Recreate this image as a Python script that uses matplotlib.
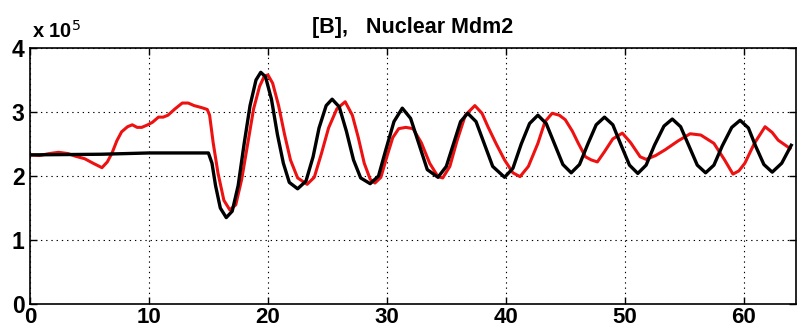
import matplotlib
matplotlib.use("Agg")
import matplotlib.pyplot as plt

plt.rcParams['font.family'] = ['Liberation Sans', 'DejaVu Sans']

title = "[B],   Nuclear Mdm2"
x_ticks = [0, 10, 20, 30, 40, 50, 60]
y_ticks = [0, 1, 2, 3, 4]
scale_label = r"x 10$^{5}$"

# Model (black), values in units of 1e5
black_t = [0, 6, 10, 15.0, 15.3, 15.6, 16.0, 16.5, 17.0, 17.5, 18.0, 18.5, 19.0, 19.4,
           19.8, 20.3, 20.8, 21.3, 21.8, 22.5, 23.2, 23.8, 24.3, 24.9, 25.4, 26.0, 26.6,
           27.2, 27.8, 28.6, 29.3, 29.9, 30.6, 31.3, 32.0, 32.7, 33.4, 34.3, 35.0, 35.6,
           36.2, 36.8, 37.5, 38.2, 38.9, 39.9, 40.6, 41.3, 42.0, 42.7, 43.4, 44.1, 44.8,
           45.5, 46.2, 46.9, 47.6, 48.3, 49.0, 49.7, 50.4, 51.1, 51.8, 52.5, 53.3, 54.0,
           54.7, 55.4, 56.1, 56.8, 57.5, 58.2, 59.0, 59.7, 60.4, 61.0, 61.7, 62.4, 63.2, 64.0]
black_v = [2.33, 2.34, 2.36, 2.36, 2.2, 1.85, 1.5, 1.35, 1.45, 1.85, 2.5, 3.1, 3.5, 3.62,
           3.55, 3.2, 2.65, 2.2, 1.9, 1.80, 1.92, 2.3, 2.75, 3.1, 3.2, 3.08, 2.7,
           2.25, 1.97, 1.88, 2.0, 2.4, 2.85, 3.06, 2.9, 2.5, 2.1, 1.98, 2.15, 2.5,
           2.85, 2.98, 2.85, 2.5, 2.15, 1.98, 2.12, 2.5, 2.82, 2.95, 2.82, 2.5, 2.18,
           2.05, 2.18, 2.5, 2.8, 2.92, 2.8, 2.48, 2.17, 2.04, 2.17, 2.48, 2.78, 2.89,
           2.77, 2.47, 2.17, 2.05, 2.17, 2.47, 2.76, 2.87, 2.75, 2.47, 2.18, 2.06, 2.2, 2.48]

# Experiment (red), values in units of 1e5
red_t = [0, 0.8, 1.6, 2.4, 3.2, 3.8, 4.6, 5.3, 6.05, 6.5, 6.9, 7.3, 7.7, 8.2, 8.6, 9.0,
         9.4, 9.9, 10.3, 10.8, 11.2, 11.6, 12.2, 12.8, 13.3, 13.8, 14.4, 14.9, 15.1, 15.4,
         15.8, 16.3, 16.8, 17.3, 17.8, 18.3, 18.8, 19.3, 19.7, 20.0, 20.4, 20.9, 21.4,
         21.9, 22.5, 23.3, 23.9, 24.5, 25.1, 25.8, 26.5, 27.1, 27.6, 28.1, 28.6, 29.0,
         29.5, 30.0, 30.5, 31.0, 31.6, 32.2, 32.9, 33.6, 34.3, 34.7, 35.3, 35.9, 36.6,
         37.4, 38.0, 38.5, 39.2, 39.9, 40.6, 41.2, 41.9, 42.7, 43.3, 43.9, 44.5, 45.0,
         45.6, 46.1, 46.7, 47.2, 47.7, 48.3, 49.0, 49.8, 50.5, 51.3, 51.8, 52.6, 53.4,
         54.5, 55.5, 56.4, 57.5, 58.4, 59.1, 59.6, 60.1, 60.9, 61.8, 62.4, 62.9, 63.9]
red_v = [2.33, 2.32, 2.35, 2.37, 2.35, 2.31, 2.27, 2.2, 2.13, 2.22, 2.36, 2.55, 2.69, 2.77,
         2.80, 2.76, 2.76, 2.80, 2.84, 2.92, 2.92, 2.95, 3.05, 3.14, 3.14, 3.10, 3.07, 3.04,
         2.95, 2.52, 2.05, 1.62, 1.47, 1.55, 1.95, 2.5, 3.05, 3.4, 3.56, 3.58, 3.45, 3.1,
         2.65, 2.25, 1.97, 1.87, 1.98, 2.35, 2.75, 3.05, 3.16, 2.95, 2.6, 2.2, 1.95, 1.89,
         1.98, 2.3, 2.6, 2.74, 2.76, 2.74, 2.52, 2.2, 1.99, 1.97, 2.15, 2.55, 2.95,
         3.10, 2.98, 2.77, 2.5, 2.25, 2.05, 1.99, 2.15, 2.51, 2.85, 2.98, 2.95, 2.88,
         2.7, 2.51, 2.3, 2.25, 2.22, 2.38, 2.58, 2.67, 2.52, 2.30, 2.26, 2.32, 2.41,
         2.55, 2.66, 2.64, 2.51, 2.25, 2.03, 2.08, 2.2, 2.51, 2.77, 2.68, 2.56, 2.43]

fig = plt.figure(figsize=(7.98, 3.33), dpi=100)
ax = fig.add_axes([30 / 798, 1 - 304 / 333, 766 / 798, 256 / 333])

ax.plot(red_t, red_v, color='#ee1111', lw=2.2, solid_joinstyle='round')
ax.plot(black_t, black_v, color='black', lw=2.4, solid_joinstyle='round')

ax.set_xlim(0, 64.4)
ax.set_ylim(0, 4)
ax.set_xticks(x_ticks)
ax.set_yticks(y_ticks)
ax.set_xticklabels([str(v) for v in x_ticks], fontsize=16, fontweight='bold')
ax.set_yticklabels([str(v) for v in y_ticks], fontsize=16.5, fontweight='bold')
ax.tick_params(direction='in', length=5, width=1, top=True, right=True, pad=4)
ax.tick_params(axis='x', pad=2)
ax.grid(True, color='black', linestyle=(0, (1.2, 3.5)), lw=0.8)
for s in ax.spines.values():
    s.set_linewidth(1.2)

ax.set_title(title, fontsize=15.5, fontweight='bold', pad=11)
ax.text(0.003, 1.025, scale_label, transform=ax.transAxes, fontsize=14.5, fontweight='bold',
        ha='left', va='bottom')

fig.savefig("out.png", dpi=100)
